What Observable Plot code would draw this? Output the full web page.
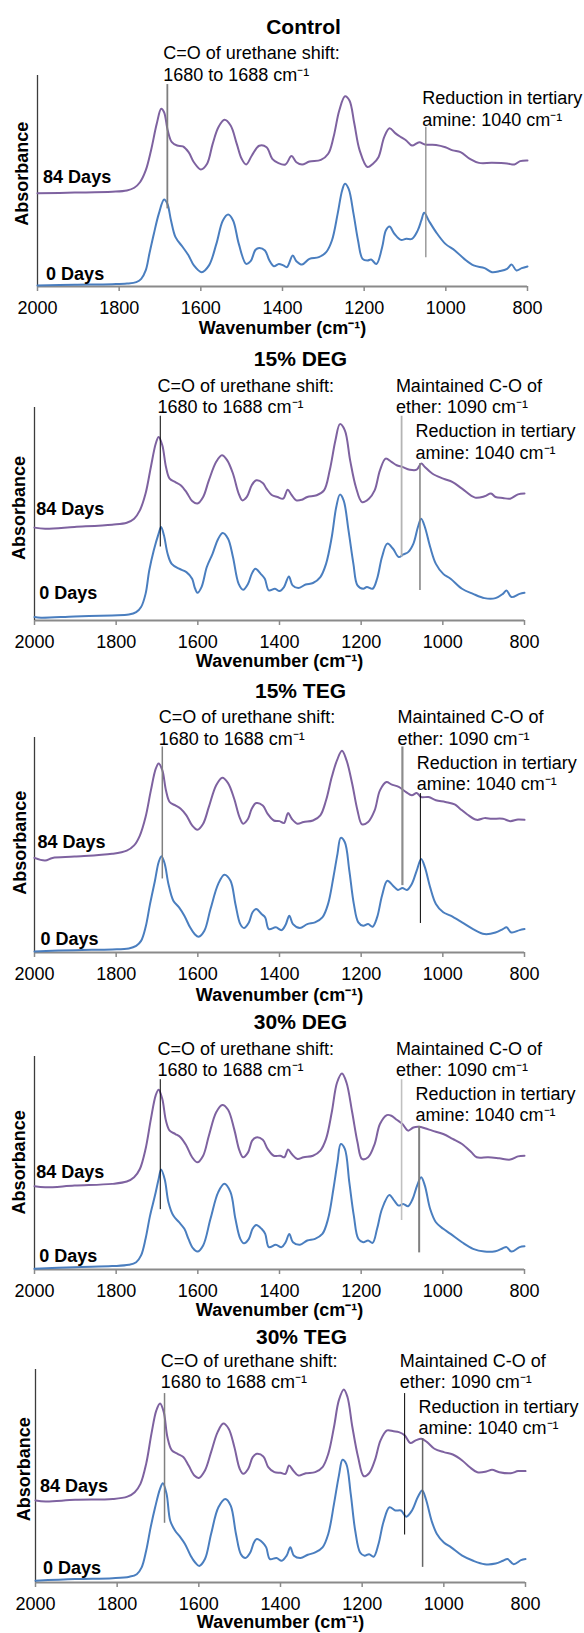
<!DOCTYPE html>
<html>
<head>
<meta charset="utf-8">
<script src="https://cdn.jsdelivr.net/npm/d3@7"></script>
<script src="https://cdn.jsdelivr.net/npm/@observablehq/plot@0.6"></script>
<style>
  html, body { margin: 0; padding: 0; background: #fff; }
  svg { display: block; }
</style>
</head>
<body>
<div id="chart"></div>
<script>
// ---- Data: [wavenumber (cm-1), absorbance (offset, arbitrary units)] ----
const control84 = [[2000,44.2],[1909,44.5],[1817,44.9],[1781,45.5],[1763,46.8],[1749,49.4],[1735,55.0],[1722,64.5],[1708,77.1],[1697,84.2],[1690,82.6],[1681,73.9],[1671,68.4],[1658,66.8],[1644,66.4],[1630,63.7],[1617,58.9],[1600,55.5],[1585,58.1],[1571,67.6],[1557,75.5],[1542,79.0],[1527,76.3],[1512,67.6],[1500,60.5],[1489,57.8],[1475,62.1],[1457,66.7],[1439,66.0],[1425,60.5],[1411,58.6],[1393,57.8],[1378,61.8],[1366,58.9],[1352,57.8],[1334,59.2],[1306,60.0],[1288,62.9],[1275,70.8],[1261,83.4],[1247,90.2],[1236,88.2],[1224,77.1],[1211,64.5],[1192,56.6],[1179,58.1],[1165,61.3],[1151,70.8],[1138,75.0],[1124,72.7],[1110,70.8],[1097,69.2],[1083,66.8],[1065,68.4],[1051,67.3],[1024,67.1],[1001,66.0],[983,64.5],[964,63.7],[941,60.5],[919,58.6],[887,58.6],[850,58.3],[832,57.8],[818,59.4],[800,59.7]];
const control0 = [[2000,0.5],[1909,0.8],[1817,1.1],[1781,1.4],[1758,2.1],[1746,3.6],[1735,7.6],[1726,15.5],[1715,25.0],[1703,34.4],[1690,41.2],[1682,39.2],[1673,31.3],[1662,23.4],[1644,18.6],[1630,14.7],[1617,10.0],[1598,6.8],[1580,10.0],[1562,20.2],[1546,31.3],[1533,34.1],[1521,31.3],[1507,20.2],[1489,10.7],[1478,12.0],[1466,17.4],[1457,18.3],[1443,17.1],[1432,12.3],[1421,9.6],[1409,10.7],[1398,10.0],[1389,9.2],[1375,14.7],[1366,12.0],[1352,10.4],[1334,13.1],[1311,13.9],[1293,16.3],[1279,21.8],[1265,34.4],[1254,45.5],[1247,48.7],[1238,46.3],[1226,34.4],[1215,21.8],[1204,13.1],[1192,12.3],[1183,12.8],[1170,10.7],[1156,18.6],[1147,26.5],[1138,28.4],[1126,25.0],[1110,22.1],[1097,22.6],[1083,22.6],[1069,26.5],[1060,31.3],[1053,34.9],[1042,31.3],[1024,25.8],[1001,20.2],[978,17.1],[955,13.1],[932,10.0],[905,8.7],[887,6.8],[868,7.3],[850,8.4],[839,10.4],[827,7.6],[814,8.7],[800,9.5]];

const deg15_84 = [[2000,43.6],[1974,43.1],[1902,43.9],[1810,45.0],[1774,45.9],[1756,47.8],[1742,51.7],[1728,59.6],[1715,72.1],[1703,83.1],[1696,86.2],[1687,82.3],[1678,72.1],[1669,66.6],[1655,65.0],[1642,63.5],[1628,60.3],[1614,56.1],[1601,54.9],[1587,58.0],[1573,65.8],[1555,74.5],[1541,77.6],[1528,75.2],[1514,69.0],[1500,59.6],[1491,56.4],[1480,58.0],[1468,63.5],[1457,65.8],[1441,64.6],[1432,61.9],[1418,58.8],[1405,58.0],[1391,57.2],[1380,61.4],[1371,59.1],[1359,56.4],[1345,56.7],[1332,58.0],[1309,58.8],[1291,61.1],[1277,70.5],[1263,84.6],[1252,92.2],[1240,89.3],[1227,75.2],[1213,62.7],[1198,55.6],[1181,57.2],[1167,61.1],[1154,70.5],[1140,76.0],[1126,74.5],[1113,72.9],[1099,72.1],[1081,70.8],[1064,70.8],[1053,73.7],[1044,72.1],[1026,69.0],[999,66.6],[976,65.0],[953,61.9],[921,57.7],[898,58.3],[882,59.6],[871,58.0],[853,57.5],[835,57.2],[816,59.2],[800,59.6]];
const deg15_0 = [[2000,1.6],[1984,1.3],[1902,1.9],[1810,2.4],[1769,2.8],[1751,3.9],[1739,6.3],[1728,12.5],[1719,23.5],[1708,32.9],[1696,40.8],[1690,43.9],[1683,40.0],[1674,31.3],[1664,26.6],[1646,24.3],[1628,22.7],[1614,19.6],[1608,15.7],[1601,13.0],[1591,15.7],[1578,25.1],[1564,31.3],[1550,38.4],[1539,41.1],[1526,38.4],[1514,29.8],[1500,17.2],[1489,14.4],[1477,17.2],[1468,21.9],[1459,24.3],[1446,21.9],[1436,19.6],[1426,14.1],[1411,14.9],[1400,13.8],[1389,15.7],[1377,20.7],[1368,16.5],[1354,15.2],[1336,16.9],[1318,17.6],[1300,20.4],[1286,26.6],[1272,39.2],[1261,53.3],[1252,59.1],[1243,56.4],[1231,42.3],[1219,26.6],[1209,16.5],[1195,14.9],[1186,15.7],[1172,14.9],[1161,19.6],[1149,29.8],[1136,36.1],[1122,33.7],[1108,29.8],[1097,31.0],[1085,32.1],[1072,36.1],[1061,43.9],[1053,47.8],[1044,43.9],[1031,34.5],[1017,26.6],[999,21.9],[981,19.6],[953,14.9],[926,12.5],[898,10.5],[871,10.5],[853,12.5],[844,14.1],[832,11.0],[812,12.5],[800,13.0]];

const teg15_84 = [[2000,44.0],[1974,42.8],[1956,44.0],[1902,44.6],[1810,45.9],[1774,47.4],[1756,49.8],[1742,54.4],[1728,63.0],[1715,75.4],[1703,85.5],[1696,87.9],[1687,84.8],[1678,75.4],[1669,70.0],[1655,68.4],[1642,66.9],[1628,63.8],[1614,59.1],[1601,57.1],[1587,59.9],[1573,67.7],[1555,77.8],[1540,81.3],[1526,78.8],[1511,71.5],[1498,63.0],[1489,59.9],[1477,62.2],[1468,66.9],[1457,69.5],[1441,68.4],[1429,64.5],[1414,61.4],[1400,61.1],[1389,60.2],[1379,64.9],[1370,62.2],[1356,59.9],[1341,60.7],[1318,61.4],[1300,63.8],[1286,70.8],[1272,81.6],[1259,89.5],[1247,93.8],[1236,89.5],[1222,78.5],[1209,66.1],[1198,59.6],[1183,60.7],[1167,66.1],[1154,75.4],[1138,79.3],[1126,78.2],[1108,77.0],[1090,74.6],[1076,73.1],[1064,74.2],[1053,72.3],[1035,72.3],[1017,70.8],[994,70.0],[971,68.9],[958,66.9],[940,64.2],[917,61.7],[898,62.5],[880,62.2],[853,62.2],[835,61.1],[816,61.9],[800,61.7]];
const teg15_0 = [[2000,0.5],[1902,1.1],[1810,1.4],[1769,1.9],[1751,3.1],[1739,5.4],[1728,11.7],[1717,22.6],[1705,33.4],[1696,42.0],[1689,44.8],[1681,41.2],[1672,31.9],[1660,24.1],[1646,21.0],[1633,17.1],[1619,11.7],[1608,8.6],[1598,7.3],[1584,10.1],[1569,20.2],[1550,31.9],[1535,36.2],[1520,33.4],[1508,22.6],[1496,13.2],[1487,11.4],[1475,14.0],[1466,18.7],[1457,20.2],[1444,17.9],[1435,16.3],[1426,10.9],[1409,11.7],[1395,10.4],[1385,12.9],[1376,17.1],[1367,13.2],[1350,11.4],[1332,13.2],[1313,14.0],[1295,16.3],[1281,22.6],[1268,35.0],[1258,45.9],[1250,53.3],[1240,51.3],[1229,38.1],[1218,22.6],[1207,14.0],[1195,12.4],[1183,13.2],[1172,12.0],[1161,16.3],[1149,26.4],[1136,33.4],[1122,31.1],[1110,29.1],[1099,30.0],[1088,29.1],[1076,31.9],[1064,38.1],[1053,43.5],[1044,39.7],[1031,30.3],[1017,22.6],[999,18.7],[981,17.1],[953,14.0],[926,10.9],[898,8.6],[871,9.3],[853,10.9],[844,11.7],[832,9.3],[812,10.4],[800,10.9]];

const deg30_84 = [[2000,39.1],[1974,38.6],[1902,39.4],[1810,40.2],[1774,41.3],[1756,43.3],[1742,47.2],[1728,56.6],[1715,70.6],[1703,81.9],[1696,84.4],[1687,80.0],[1678,69.8],[1669,65.2],[1655,63.6],[1642,62.0],[1628,58.1],[1614,52.7],[1601,50.3],[1587,53.4],[1573,62.8],[1555,73.8],[1540,77.2],[1526,75.0],[1511,65.9],[1498,55.8],[1489,52.7],[1477,55.0],[1467,60.5],[1457,62.0],[1441,60.9],[1429,56.6],[1414,53.4],[1398,53.4],[1388,52.7],[1379,56.3],[1370,54.2],[1356,51.9],[1341,52.7],[1318,53.4],[1300,55.8],[1286,61.3],[1272,73.8],[1259,87.8],[1247,92.0],[1236,87.8],[1222,73.8],[1209,59.7],[1198,51.9],[1183,52.7],[1167,58.9],[1154,68.3],[1137,72.5],[1126,72.2],[1113,70.3],[1099,68.3],[1085,65.2],[1072,66.7],[1058,67.0],[1044,66.3],[1026,65.2],[999,63.6],[976,61.3],[953,58.9],[930,55.0],[917,52.7],[889,52.7],[862,52.2],[835,51.6],[816,53.1],[800,53.4]];
const deg30_0 = [[2000,0.3],[1902,1.1],[1810,1.6],[1769,2.2],[1751,3.4],[1739,6.6],[1728,14.4],[1717,25.3],[1705,34.7],[1696,42.5],[1690,46.9],[1681,42.2],[1672,31.6],[1660,25.3],[1646,22.2],[1633,19.1],[1623,14.4],[1612,10.0],[1601,8.4],[1587,11.3],[1569,23.8],[1550,36.3],[1535,40.2],[1520,36.3],[1508,23.8],[1496,14.4],[1487,12.3],[1475,14.4],[1466,19.1],[1457,20.9],[1444,19.1],[1435,16.7],[1426,10.5],[1409,11.6],[1395,10.5],[1385,12.8],[1376,16.7],[1367,12.8],[1350,11.6],[1332,13.6],[1313,14.4],[1295,16.7],[1281,23.8],[1268,37.8],[1258,50.3],[1250,58.9],[1240,56.6],[1229,40.9],[1218,25.3],[1207,14.4],[1195,12.8],[1183,13.6],[1172,12.5],[1161,19.1],[1149,28.4],[1131,35.0],[1119,32.3],[1108,30.0],[1097,30.8],[1085,29.7],[1074,33.1],[1063,39.4],[1053,43.3],[1044,39.4],[1031,28.4],[1017,22.2],[999,19.1],[981,16.7],[953,12.8],[926,9.7],[898,8.4],[871,8.6],[853,10.0],[844,10.5],[832,8.4],[812,10.5],[800,10.9]];

const teg30_84 = [[2000,38.5],[1975,38.0],[1903,38.8],[1811,39.2],[1775,40.3],[1757,42.4],[1743,46.3],[1729,55.7],[1716,69.9],[1704,80.8],[1695,84.0],[1686,80.1],[1677,68.3],[1666,62.0],[1652,60.4],[1638,58.9],[1625,54.9],[1611,50.2],[1600,49.1],[1585,52.6],[1570,61.2],[1554,70.6],[1540,74.6],[1527,72.2],[1513,63.6],[1500,53.4],[1491,51.0],[1479,53.4],[1468,58.9],[1458,60.4],[1442,59.2],[1430,54.2],[1415,51.8],[1400,51.5],[1388,51.0],[1379,54.9],[1369,52.6],[1356,50.2],[1338,51.3],[1315,51.8],[1297,54.2],[1283,60.4],[1269,73.0],[1257,85.6],[1245,90.6],[1236,87.1],[1224,73.0],[1210,58.9],[1196,49.9],[1183,51.3],[1169,57.3],[1155,66.7],[1139,71.4],[1123,71.0],[1110,70.6],[1096,69.1],[1082,65.5],[1069,66.7],[1055,67.5],[1041,65.9],[1023,62.8],[1000,61.2],[978,60.1],[955,57.3],[937,54.2],[918,51.8],[896,52.1],[882,52.9],[864,51.8],[836,51.3],[818,52.3],[800,52.3]];
const teg30_0 = [[2000,0.8],[1903,1.6],[1811,2.0],[1770,2.7],[1752,3.9],[1740,7.1],[1729,14.9],[1718,25.9],[1707,35.3],[1695,44.0],[1688,46.6],[1679,41.6],[1670,29.0],[1658,24.3],[1645,21.2],[1634,18.1],[1620,12.6],[1609,9.4],[1599,7.8],[1585,11.0],[1570,22.8],[1552,35.3],[1535,39.2],[1522,36.1],[1509,22.8],[1497,13.3],[1486,11.5],[1474,14.1],[1465,18.8],[1458,20.4],[1444,18.8],[1435,16.5],[1426,11.0],[1410,11.5],[1397,10.2],[1385,12.6],[1376,16.5],[1367,12.6],[1351,11.5],[1333,13.0],[1315,14.1],[1297,16.5],[1283,22.8],[1269,36.9],[1257,50.2],[1248,57.6],[1239,55.7],[1228,41.6],[1217,24.3],[1205,14.1],[1194,12.6],[1183,13.3],[1172,12.1],[1160,18.1],[1148,28.3],[1133,35.3],[1119,33.8],[1105,33.8],[1092,30.9],[1078,33.8],[1064,40.0],[1053,43.2],[1044,39.2],[1030,29.0],[1017,22.8],[1000,18.8],[982,16.5],[955,12.6],[928,10.2],[900,8.6],[873,8.9],[855,10.2],[844,11.0],[829,8.6],[811,10.5],[800,11.0]];

// ---- Text / categories ----
const titles = ["Control", "15% DEG", "15% TEG", "30% DEG", "30% TEG"];
const seriesLabels = ["84 Days", "0 Days"];
const xTicks = [2000, 1800, 1600, 1400, 1200, 1000, 800];
const noteCO = "C=O of urethane shift:\n1680 to 1688 cm\u207B\u00B9";
const noteEther = "Maintained C-O of\nether: 1090 cm\u207B\u00B9";
const noteAmine = "Reduction in tertiary\namine: 1040 cm\u207B\u00B9";
const xTitle = "Wavenumber (cm\u207B\u00B9)";
const yTitle = "Absorbance";

// marker wavenumbers per panel: C=O, (ether), amine
const markerCO = [1682, 1692, 1687, 1692, 1684];
const markerEther = [null, 1101, 1099, 1101, 1096];
const markerAmine = [1049, 1056, 1055, 1058, 1052];

const purple = "#7E62A0", blue = "#4A7EBF";
const fam = '"Liberation Sans", Arial, Helvetica, sans-serif';

const panels = [
  { data84: control84, data0: control0, h: 340, mt: 75, mb: 54, ml: 37, mr: 57,
    titleY: 119.6, noteY: 97.6, amineY: 76.3, noteX: 1692, etherX: null, amineX: 1058,
    y84: 49.0, dx84: 5.6, y0: 3.2, dx0: 8.6, absY: 53.4, absDx: -15, xlabDy: 47.5,
    lines: [{k:"co", y1: 36.8, y2: 95.7, c: "#7f7f7f", w: 1.8}, {k:"am", y1: 13.6, y2: 75.5, c: "#8c8c8c", w: 1.3}] },
  { data84: deg15_84, data0: deg15_0, h: 332, mt: 67, mb: 52, ml: 34, mr: 60,
    titleY: 119.4, noteY: 97.5, amineY: 76.0, noteX: 1699, etherX: 1115, amineX: 1067,
    y84: 49.4, dx84: 1.8, y0: 10.2, dx0: 4.8, absY: 52.8, absDx: -15, xlabDy: 46.7,
    lines: [{k:"co", y1: 34.5, y2: 95.9, c: "#000", w: 1}, {k:"et", y1: 29.8, y2: 95.9, c: "#b4b4b4", w: 1.8}, {k:"am", y1: 14.1, y2: 73.7, c: "#808080", w: 1.5}] },
  { data84: teg15_84, data0: teg15_0, h: 333, mt: 65, mb: 53, ml: 34, mr: 60,
    titleY: 118.2, noteY: 96.7, amineY: 75.7, noteX: 1696, etherX: 1111, amineX: 1064,
    y84: 48.7, dx84: 2.9, y0: 3.6, dx0: 5.9, absY: 51.0, absDx: -14, xlabDy: 48,
    lines: [{k:"co", y1: 34.2, y2: 95.6, c: "#808080", w: 1.5}, {k:"et", y1: 31.1, y2: 95.6, c: "#8c8c8c", w: 2.2}, {k:"am", y1: 13.5, y2: 73.9, c: "#000", w: 1}] },
  { data84: deg30_84, data0: deg30_0, h: 315, mt: 51, mb: 51, ml: 34, mr: 60,
    titleY: 113.1, noteY: 90.9, amineY: 69.5, noteX: 1699, etherX: 1115, amineX: 1067,
    y84: 43.0, dx84: 1.8, y0: 3.4, dx0: 4.8, absY: 50.3, absDx: -15.7, xlabDy: 46,
    lines: [{k:"co", y1: 28.1, y2: 89.1, c: "#000", w: 1}, {k:"et", y1: 23.0, y2: 89.1, c: "#c0c0c0", w: 1.6}, {k:"am", y1: 7.8, y2: 67.2, c: "#808080", w: 2}] },
  { data84: teg30_84, data0: teg30_0, h: 313, mt: 49, mb: 51, ml: 35, mr: 59,
    titleY: 112.2, noteY: 91.1, amineY: 69.5, noteX: 1693, etherX: 1108, amineX: 1062,
    y84: 42.4, dx84: 4.5, y0: 3.9, dx0: 7.5, absY: 53.2, absDx: -11.6, xlabDy: 45.5,
    lines: [{k:"co", y1: 27.8, y2: 88.7, c: "#808080", w: 1.5}, {k:"et", y1: 22.3, y2: 88.7, c: "#000", w: 1}, {k:"am", y1: 7.1, y2: 67.5, c: "#666", w: 1.5}] }
];

const root = document.getElementById("chart");

panels.forEach((p, i) => {
  const wnFor = {co: markerCO[i], et: markerEther[i], am: markerAmine[i]};
  const notes = [{x: p.noteX, y: p.noteY, t: noteCO}, {x: p.amineX, y: p.amineY, t: noteAmine}];
  if (p.etherX != null) notes.push({x: p.etherX, y: p.noteY, t: noteEther});

  const marks = [
    Plot.ruleY([0], {stroke: "#8a8a8a", strokeWidth: 1.8}),
    Plot.ruleX([2000], {y1: 0, y2: 100, stroke: "#3c3c3c", strokeWidth: 1.3}),
    Plot.axisX({ticks: xTicks, tickSize: 5, tickPadding: 9.7, tickFormat: d => String(d), label: null, stroke: "#8a8a8a", strokeWidth: 1.5, fontSize: 18}),
    Plot.text([xTitle], {text: d => d, frameAnchor: "bottom", dy: p.xlabDy, lineAnchor: "bottom", fontWeight: "bold", fontSize: 18}),
    Plot.text([{t: yTitle, y: p.absY}], {y: "y", text: "t", frameAnchor: "left", dx: p.absDx, rotate: -90, textAnchor: "middle", lineAnchor: "middle", fontWeight: "bold", fontSize: 18}),
    Plot.line(p.data84, {x: d => d[0], y: d => d[1], stroke: purple, strokeWidth: 2, curve: "catmull-rom"}),
    Plot.line(p.data0, {x: d => d[0], y: d => d[1], stroke: blue, strokeWidth: 2, curve: "catmull-rom"}),
    ...p.lines.map(l => Plot.ruleX([{x: wnFor[l.k], y1: l.y1, y2: l.y2}], {x: "x", y1: "y1", y2: "y2", stroke: l.c, strokeWidth: l.w})),
    Plot.text([{t: seriesLabels[0], y: p.y84}], {y: "y", text: "t", frameAnchor: "left", dx: p.dx84, textAnchor: "start", lineAnchor: "bottom", fontWeight: "bold", fontSize: 18}),
    Plot.text([{t: seriesLabels[1], y: p.y0}], {y: "y", text: "t", frameAnchor: "left", dx: p.dx0, textAnchor: "start", lineAnchor: "bottom", fontWeight: "bold", fontSize: 18}),
    Plot.text(notes, {x: "x", y: "y", text: "t", textAnchor: "start", lineAnchor: "bottom", lineHeight: 1.18, fontSize: 18}),
    Plot.text([{t: titles[i], y: p.titleY}], {y: "y", text: "t", frameAnchor: "middle", dx: 21, lineAnchor: "bottom", fontWeight: "bold", fontSize: 21})
  ];

  const svg = Plot.plot({
    width: 584, height: p.h,
    marginTop: p.mt, marginBottom: p.mb, marginLeft: p.ml, marginRight: p.mr,
    x: {domain: [2000, 800]},
    y: {domain: [0, 100], axis: null},
    style: {fontFamily: fam, fontSize: "18px", color: "#000", background: "#fff", overflow: "visible"},
    marks
  });
  root.appendChild(svg);
});
</script>
</body>
</html>
